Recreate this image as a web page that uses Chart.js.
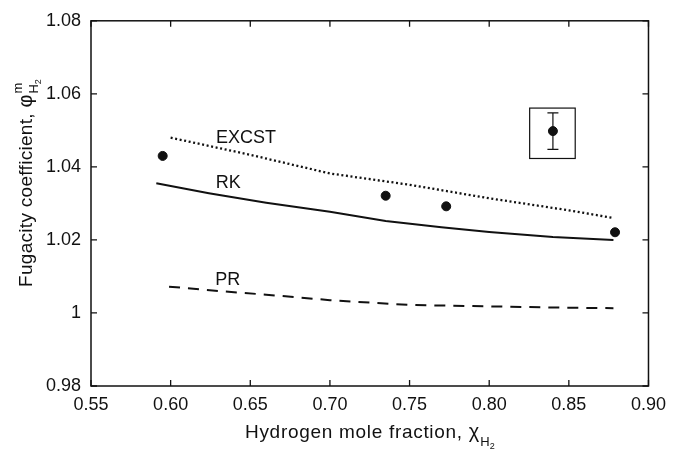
<!DOCTYPE html>
<html>
<head>
<meta charset="utf-8">
<script src="https://cdn.jsdelivr.net/npm/chart.js@4.4.1/dist/chart.umd.min.js"></script>
<style>
  html, body { margin: 0; padding: 0; background: #fff; }
  #wrap { width: 674px; height: 458px; }
</style>
</head>
<body>
<div id="wrap"><canvas id="chart" width="674" height="458"></canvas></div>
<script>
// Axis ticks
const xTicks = [0.55, 0.60, 0.65, 0.70, 0.75, 0.80, 0.85, 0.90];
const xTickLabels = ["0.55", "0.60", "0.65", "0.70", "0.75", "0.80", "0.85", "0.90"];
const yTicks = [0.98, 1.00, 1.02, 1.04, 1.06, 1.08];
const yTickLabels = ["0.98", "1", "1.02", "1.04", "1.06", "1.08"];

// Model curves
const excstX = [0.600, 0.650, 0.700, 0.750, 0.800, 0.850, 0.878];
const excstY = [1.0480, 1.0433, 1.0382, 1.0351, 1.0314, 1.0281, 1.0260];
const rkX = [0.591, 0.624, 0.660, 0.700, 0.735, 0.770, 0.800, 0.840, 0.878];
const rkY = [1.0355, 1.0328, 1.0302, 1.0277, 1.0252, 1.0235, 1.0222, 1.0208, 1.0200];
const prX = [0.599, 0.628, 0.660, 0.700, 0.750, 0.800, 0.840, 0.878];
const prY = [1.0072, 1.0061, 1.0050, 1.0035, 1.0022, 1.0018, 1.0015, 1.0013];

// Experimental points
const expX = [0.595, 0.735, 0.773, 0.879];
const expY = [1.0430, 1.0321, 1.0292, 1.0221];

// Error-bar key in its little box
const keyX = [0.840];
const keyY = [1.0498];
const keyErr = [0.0050];
const keyBoxX = [0.8254, 0.8540];
const keyBoxY = [1.0423, 1.0561];

// Curve labels
const curveLabels = ["EXCST", "RK", "PR"];
const curveLabelX = [0.6285, 0.6283, 0.6280];
const curveLabelY = [1.0479, 1.0356, 1.0089];

const FONT = '"Liberation Sans", Arial, Helvetica, sans-serif';
const INK = "#111";

function pts(xs, ys) {
  return xs.map((x, i) => ({ x: x, y: ys[i] }));
}

const extras = {
  id: "extras",
  afterDatasetsDraw(chart) {
    const ctx = chart.ctx;
    const xs = chart.scales.x;
    const ys = chart.scales.y;
    const a = chart.chartArea;

    ctx.save();
    ctx.strokeStyle = INK;
    ctx.fillStyle = INK;

    // frame
    ctx.lineWidth = 1.5;
    ctx.strokeRect(a.left, a.top, a.right - a.left, a.bottom - a.top);

    // inward ticks on all sides
    const tl = 6;
    ctx.lineWidth = 1.3;
    ctx.beginPath();
    xTicks.forEach((v) => {
      const px = xs.getPixelForValue(v);
      ctx.moveTo(px, a.bottom); ctx.lineTo(px, a.bottom - tl);
      ctx.moveTo(px, a.top); ctx.lineTo(px, a.top + tl);
    });
    yTicks.forEach((v) => {
      const py = ys.getPixelForValue(v);
      ctx.moveTo(a.left, py); ctx.lineTo(a.left + tl, py);
      ctx.moveTo(a.right, py); ctx.lineTo(a.right - tl, py);
    });
    ctx.stroke();

    // key box
    ctx.lineWidth = 1.2;
    const bx0 = xs.getPixelForValue(keyBoxX[0]);
    const bx1 = xs.getPixelForValue(keyBoxX[1]);
    const by0 = ys.getPixelForValue(keyBoxY[0]);
    const by1 = ys.getPixelForValue(keyBoxY[1]);
    ctx.strokeRect(bx0, by1, bx1 - bx0, by0 - by1);

    // error bar
    keyX.forEach((x, i) => {
      const px = xs.getPixelForValue(x);
      const pTop = ys.getPixelForValue(keyY[i] + keyErr[i]);
      const pBot = ys.getPixelForValue(keyY[i] - keyErr[i]);
      ctx.beginPath();
      ctx.moveTo(px, pTop); ctx.lineTo(px, pBot);
      ctx.moveTo(px - 5.5, pTop); ctx.lineTo(px + 5.5, pTop);
      ctx.moveTo(px - 5.5, pBot); ctx.lineTo(px + 5.5, pBot);
      ctx.stroke();
    });

    // curve labels
    ctx.font = "18px " + FONT;
    ctx.textAlign = "left";
    ctx.textBaseline = "middle";
    curveLabels.forEach((t, i) => {
      ctx.fillText(t, xs.getPixelForValue(curveLabelX[i]), ys.getPixelForValue(curveLabelY[i]));
    });

    // x axis title
    ctx.textBaseline = "alphabetic";
    ctx.font = "19px " + FONT;
    ctx.letterSpacing = "0.7px";
    const xt = "Hydrogen mole fraction, ";
    let x0 = 245;
    ctx.fillText(xt, x0, 438);
    x0 += ctx.measureText(xt).width;
    ctx.letterSpacing = "0px";
    ctx.font = "20px " + FONT;
    ctx.fillText("\u03C7", x0, 438);
    x0 += ctx.measureText("\u03C7").width + 1;
    ctx.font = "13px " + FONT;
    ctx.fillText("H", x0, 446);
    x0 += ctx.measureText("H").width;
    ctx.font = "9px " + FONT;
    ctx.fillText("2", x0, 449);

    // y axis title (rotated)
    ctx.save();
    ctx.translate(31.5, 287);
    ctx.rotate(-Math.PI / 2);
    ctx.font = "19px " + FONT;
    ctx.letterSpacing = "0.3px";
    const yt = "Fugacity coefficient, ";
    let y0 = 0;
    ctx.fillText(yt, y0, 0);
    y0 += ctx.measureText(yt).width;
    ctx.letterSpacing = "0px";
    ctx.font = "20px " + FONT;
    ctx.fillText("\u03C6", y0, 0);
    y0 += ctx.measureText("\u03C6").width + 1;
    ctx.font = "13px " + FONT;
    ctx.fillText("m", y0, -10);
    ctx.fillText("H", y0, 6);
    const hw = ctx.measureText("H").width;
    ctx.font = "9px " + FONT;
    ctx.fillText("2", y0 + hw, 9);
    ctx.restore();

    ctx.restore();
  }
};

new Chart(document.getElementById("chart"), {
  type: "scatter",
  data: {
    datasets: [
      {
        label: "EXCST",
        type: "line",
        data: pts(excstX, excstY),
        borderColor: INK,
        borderWidth: 2.3,
        borderDash: [2, 2.6],
        pointRadius: 0,
        tension: 0,
        fill: false
      },
      {
        label: "RK",
        type: "line",
        data: pts(rkX, rkY),
        borderColor: INK,
        borderWidth: 2,
        pointRadius: 0,
        tension: 0,
        fill: false
      },
      {
        label: "PR",
        type: "line",
        data: pts(prX, prY),
        borderColor: INK,
        borderWidth: 2,
        borderDash: [11, 8],
        pointRadius: 0,
        tension: 0,
        fill: false
      },
      {
        label: "Experimental",
        data: pts(expX, expY),
        backgroundColor: INK,
        borderColor: INK,
        pointRadius: 4.5,
        pointHoverRadius: 4.5
      },
      {
        label: "Key",
        data: pts(keyX, keyY),
        backgroundColor: INK,
        borderColor: INK,
        pointRadius: 4.5,
        pointHoverRadius: 4.5
      }
    ]
  },
  options: {
    responsive: false,
    animation: false,
    events: [],
    layout: { padding: { top: 18, right: 21, left: 0, bottom: 0 } },
    plugins: {
      legend: { display: false },
      tooltip: { enabled: false }
    },
    scales: {
      x: {
        type: "linear",
        min: 0.55,
        max: 0.90,
        afterBuildTicks: (s) => { s.ticks = xTicks.map((v) => ({ value: v })); },
        afterFit: (s) => { s.height = 72; },
        grid: { display: false, drawTicks: false },
        border: { display: false },
        ticks: {
          padding: 8,
          color: INK,
          font: { family: FONT, size: 18 },
          callback: (v, i) => xTickLabels[i]
        }
      },
      y: {
        type: "linear",
        min: 0.98,
        max: 1.08,
        afterBuildTicks: (s) => { s.ticks = yTicks.map((v) => ({ value: v })); },
        afterFit: (s) => { s.width = 91; },
        grid: { display: false, drawTicks: false },
        border: { display: false },
        ticks: {
          padding: 10,
          color: INK,
          font: { family: FONT, size: 18 },
          callback: (v, i) => yTickLabels[i]
        }
      }
    }
  },
  plugins: [extras]
});
</script>
</body>
</html>
